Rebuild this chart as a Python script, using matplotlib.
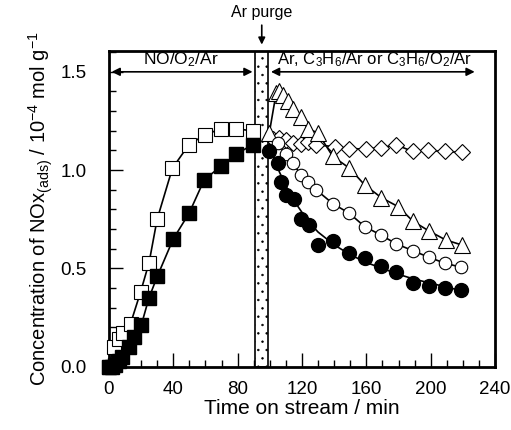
import numpy as np
import matplotlib
matplotlib.use("Agg")
import matplotlib.pyplot as plt
from matplotlib.ticker import MultipleLocator

plt.rcParams['font.family'] = ['Liberation Sans', 'DejaVu Sans']
plt.rcParams['mathtext.fontset'] = 'custom'
plt.rcParams['mathtext.rm'] = 'Liberation Sans'
plt.rcParams['mathtext.it'] = 'Liberation Sans:italic'
plt.rcParams['hatch.linewidth'] = 0.5

# adsorption in NO/O2/Ar
ads_open_x = [0, 3, 6, 9, 13.5, 19.7, 25, 30, 39.5, 49.8, 59.8, 69.6, 79, 89.3]
ads_open_y = [0, 0.10, 0.14, 0.17, 0.22, 0.38, 0.53, 0.75, 1.01, 1.13, 1.18, 1.21, 1.21, 1.20]
ads_fill_x = [0, 2, 4, 6, 8.3, 12.5, 15.6, 20.1, 24.9, 30.1, 40, 49.8, 59.2, 69.6, 79, 89.3]
ads_fill_y = [0, 0, 0.01, 0.03, 0.05, 0.10, 0.15, 0.21, 0.35, 0.46, 0.65, 0.78, 0.95, 1.02, 1.08, 1.13]

# after purge
tri_x = [99.7, 103.9, 105.9, 108, 111.1, 114.2, 119.4, 123.6, 129.8, 139.1, 149.5, 158.9, 169.3, 179.6, 189, 199, 209.3, 219.1]
tri_y = [1.19, 1.39, 1.40, 1.38, 1.35, 1.31, 1.27, 1.21, 1.19, 1.07, 1.01, 0.925, 0.86, 0.815, 0.74, 0.69, 0.645, 0.62]
dia_x = [102, 105.9, 110, 114.2, 119.4, 123.6, 128.8, 140.2, 149.5, 159.9, 169.2, 178.6, 188.9, 198.3, 208.7, 219.1]
dia_y = [1.16, 1.163, 1.154, 1.137, 1.134, 1.145, 1.128, 1.12, 1.11, 1.107, 1.115, 1.128, 1.095, 1.10, 1.095, 1.09]
oc_x = [104.9, 110, 114.2, 119.4, 123.6, 128.8, 139.1, 149.5, 158.9, 168.8, 178.6, 189, 198.8, 208.7, 218.5]
oc_y = [1.137, 1.08, 1.035, 0.976, 0.94, 0.90, 0.83, 0.78, 0.713, 0.671, 0.625, 0.59, 0.557, 0.527, 0.507]
fc_x = [99.7, 104.9, 107, 110, 114.8, 119.4, 124.6, 129.8, 139.1, 149.3, 158.9, 168.8, 178.6, 189, 199, 208.7, 218.5]
fc_y = [1.095, 1.035, 0.94, 0.874, 0.853, 0.75, 0.72, 0.62, 0.64, 0.58, 0.553, 0.513, 0.48, 0.425, 0.412, 0.403, 0.388]
fit_x = [100, 103, 106, 110, 115, 120, 125, 130, 140, 150, 160, 170, 180, 190, 200, 210, 220]
fit_y = [1.12, 1.05, 0.99, 0.92, 0.845, 0.785, 0.73, 0.685, 0.62, 0.57, 0.53, 0.50, 0.47, 0.445, 0.425, 0.405, 0.385]

purge = (91, 99)

fig = plt.figure(figsize=(5.11, 4.30), dpi=100)
ax = fig.add_axes([0.213, 0.147, 0.756, 0.734])

ax.axvspan(purge[0], purge[1], facecolor='white', edgecolor='black', hatch='..', lw=1.2, zorder=1)

ms = 9.5
ax.plot(ads_open_x, ads_open_y, '-', color='black', lw=1.2, marker='s', ms=ms, mfc='white', mec='black', mew=0.8, clip_on=False, zorder=3)
ax.plot(ads_fill_x, ads_fill_y, '-', color='black', lw=1.2, marker='s', ms=ms, mfc='black', mec='black', clip_on=False, zorder=3)
ax.plot(dia_x, dia_y, '-', color='black', lw=1.2, marker='D', ms=8, mfc='white', mec='black', mew=0.8, zorder=3)
ax.plot(tri_x, tri_y, '-', color='black', lw=1.2, marker='^', ms=11, mfc='white', mec='black', mew=0.8, zorder=3)
ax.plot(oc_x, oc_y, '-', color='black', lw=1.2, marker='o', ms=9, mfc='white', mec='black', mew=0.8, zorder=3)
ax.plot(fit_x, fit_y, '-', color='black', lw=1.2, zorder=3)
ax.plot(fc_x, fc_y, 'o', ms=10, mfc='black', mec='black', zorder=4)

ax.set_xlim(0, 240)
ax.set_ylim(0, 1.605)
ax.xaxis.set_major_locator(MultipleLocator(40))
ax.xaxis.set_minor_locator(MultipleLocator(10))
ax.yaxis.set_major_locator(MultipleLocator(0.5))
ax.yaxis.set_minor_locator(MultipleLocator(0.1))
ax.yaxis.set_major_formatter(matplotlib.ticker.FormatStrFormatter('%.1f'))
ax.tick_params(which='both', direction='in', labelsize=13.5, width=1)
ax.tick_params(which='major', length=10)
ax.tick_params(which='minor', length=5)
ax.tick_params(axis='x', which='major', pad=10)
ax.tick_params(axis='y', which='major', pad=16)
for s in ax.spines.values():
    s.set_linewidth(2)

ax.set_xlabel('Time on stream / min', fontsize=15, labelpad=1)
ax.set_ylabel(r'Concentration of NOx$_{\rm (ads)}$ / 10$^{-4}$ mol g$^{-1}$', fontsize=14.5, labelpad=4)

# region arrows
ax.annotate('', xy=(0, 1.5), xytext=(purge[0], 1.5),
            arrowprops=dict(arrowstyle='<|-|>', color='black', lw=1.2, mutation_scale=12))
ax.annotate('', xy=(purge[1], 1.5), xytext=(229, 1.5),
            arrowprops=dict(arrowstyle='<|-|>', color='black', lw=1.2, mutation_scale=12))
ax.text(45, 1.515, r'NO/O$_2$/Ar', ha='center', va='bottom', fontsize=12.5)
ax.text(165, 1.515, r'Ar, C$_3$H$_6$/Ar or C$_3$H$_6$/O$_2$/Ar', ha='center', va='bottom', fontsize=12)

ax.annotate('Ar purge', xy=(95, 1.012), xycoords=('data', 'axes fraction'),
            xytext=(95, 1.10), textcoords=('data', 'axes fraction'),
            ha='center', va='bottom', fontsize=11.5,
            arrowprops=dict(arrowstyle='-|>', color='black', lw=1.2, mutation_scale=10))

fig.savefig('out.png', dpi=100)
